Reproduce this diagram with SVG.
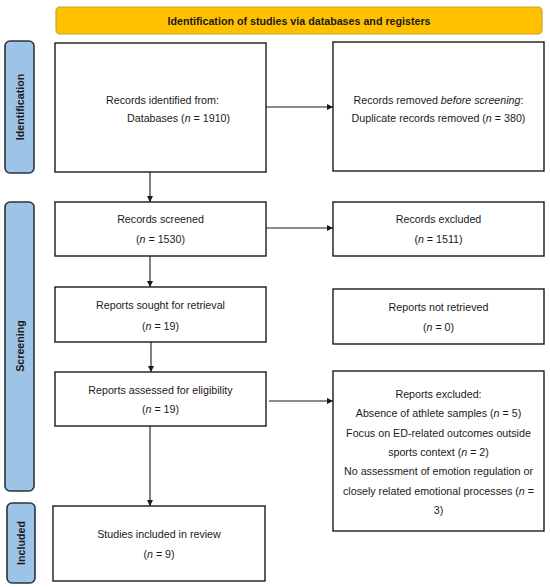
<svg xmlns="http://www.w3.org/2000/svg" width="550" height="587" viewBox="0 0 550 587">
<style>
.box{fill:#fff;stroke:#1a1a1a;stroke-width:1.4}
.side{fill:#9dc3e6;stroke:#2b3440;stroke-width:1.6}
.banner{fill:#ffc000;stroke:#c9a43a;stroke-width:1.2}
text{font-family:"Liberation Sans",Arial,sans-serif;font-size:10.7px;fill:#1a1a1a}
.c{text-anchor:middle}
.b{font-weight:bold}
.conn line{stroke:#1a1a1a;stroke-width:1.1;marker-end:url(#ah)}
</style>
<defs>
<marker id="ah" viewBox="0 0 10 10" refX="10" refY="5" markerWidth="6" markerHeight="6" markerUnits="userSpaceOnUse" orient="auto">
<path d="M0,0 L10,5 L0,10 z" fill="#1a1a1a"/>
</marker>
</defs>
<rect width="550" height="587" fill="#fff"/>
<g id="banner">
<rect class="banner" x="56" y="7" width="486" height="27" rx="4"/>
<text class="c b" x="299" y="25">Identification of studies via databases and registers</text>
</g>
<g id="label-identification">
<rect class="side" x="5" y="41" width="29" height="132" rx="5"/>
<text class="c b" transform="translate(23.5,107) rotate(-90)">Identification</text>
</g>
<g id="label-screening">
<rect class="side" x="5" y="202" width="29" height="289" rx="5"/>
<text class="c b" transform="translate(23.5,346) rotate(-90)">Screening</text>
</g>
<g id="label-included">
<rect class="side" x="7" y="503" width="28" height="80" rx="5"/>
<text class="c b" transform="translate(25,543) rotate(-90)">Included</text>
</g>
<g id="records-identified">
<rect class="box" x="55" y="43" width="211" height="129"/>
<text x="106" y="104">Records identified from:</text>
<text x="127" y="122">Databases (<tspan font-style="italic">n</tspan> = 1910)</text>
</g>
<g id="records-removed">
<rect class="box" x="333" y="42" width="211" height="129"/>
<text class="c" x="438.5" y="104">Records removed <tspan font-style="italic">before screening</tspan>:</text>
<text class="c" x="438.5" y="122">Duplicate records removed (<tspan font-style="italic">n</tspan> = 380)</text>
</g>
<g id="records-screened">
<rect class="box" x="55" y="202" width="211" height="54"/>
<text class="c" x="160.5" y="223">Records screened</text>
<text class="c" x="160.5" y="243">(<tspan font-style="italic">n</tspan> = 1530)</text>
</g>
<g id="records-excluded">
<rect class="box" x="333" y="202" width="211" height="54"/>
<text class="c" x="438.5" y="223">Records excluded</text>
<text class="c" x="438.5" y="243">(<tspan font-style="italic">n</tspan> = 1511)</text>
</g>
<g id="reports-sought">
<rect class="box" x="55" y="287" width="211" height="55"/>
<text class="c" x="160.5" y="309">Reports sought for retrieval</text>
<text class="c" x="160.5" y="330">(<tspan font-style="italic">n</tspan> = 19)</text>
</g>
<g id="reports-not-retrieved">
<rect class="box" x="333" y="289" width="211" height="55"/>
<text class="c" x="438.5" y="311">Reports not retrieved</text>
<text class="c" x="438.5" y="331">(<tspan font-style="italic">n</tspan> = 0)</text>
</g>
<g id="reports-assessed">
<rect class="box" x="55" y="372" width="211" height="54"/>
<text class="c" x="160.5" y="394">Reports assessed for eligibility</text>
<text class="c" x="160.5" y="413">(<tspan font-style="italic">n</tspan> = 19)</text>
</g>
<g id="reports-excluded">
<rect class="box" x="333" y="371" width="211" height="160"/>
<text class="c" x="438.5" y="398">Reports excluded:</text>
<text class="c" x="438.5" y="417">Absence of athlete samples (<tspan font-style="italic">n</tspan> = 5)</text>
<text class="c" x="438.5" y="437">Focus on ED-related outcomes outside</text>
<text class="c" x="438.5" y="456">sports context (<tspan font-style="italic">n</tspan> = 2)</text>
<text class="c" x="438.5" y="475">No assessment of emotion regulation or</text>
<text class="c" x="438.5" y="495">closely related emotional processes (<tspan font-style="italic">n</tspan> =</text>
<text class="c" x="438.5" y="514">3)</text>
</g>
<g id="studies-included">
<rect class="box" x="53" y="506" width="212" height="75"/>
<text class="c" x="159" y="538">Studies included in review</text>
<text class="c" x="159" y="558">(<tspan font-style="italic">n</tspan> = 9)</text>
</g>
<g class="conn" id="connectors">
<line x1="150" y1="172" x2="150" y2="202"/>
<line x1="266" y1="107" x2="333" y2="107"/>
<line x1="266" y1="228" x2="333" y2="228"/>
<line x1="150" y1="256" x2="150" y2="287"/>
<line x1="151" y1="342" x2="151" y2="372"/>
<line x1="269" y1="401" x2="333" y2="401"/>
<line x1="150" y1="426" x2="150" y2="506"/>
</g>
</svg>
